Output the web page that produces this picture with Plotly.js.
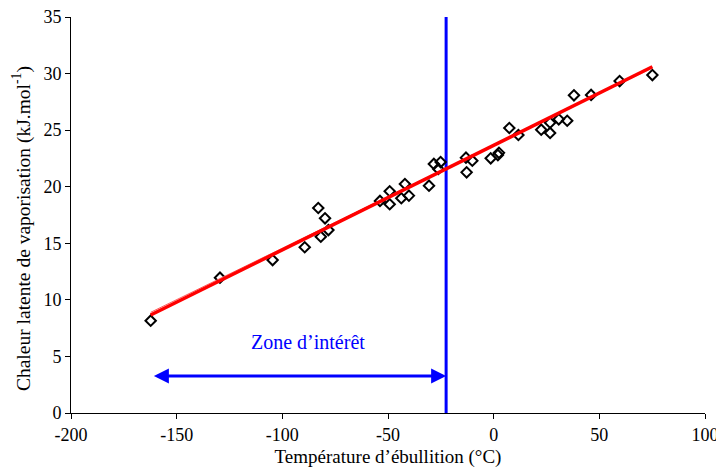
<!DOCTYPE html>
<html><head><meta charset="utf-8">
<script src="https://cdn.plot.ly/plotly-3.0.1.min.js"></script>
<style>html,body{margin:0;padding:0;background:#fff}#chart{width:716px;height:468px}</style>
</head><body><div id="chart"></div>
<script>
const tempEbullition = [-162.3,-129.5,-104.6,-89.4,-83.0,-79.8,-81.8,-78.2,-53.8,-49.2,-49.2,-43.7,-42.0,-40.1,-30.6,-28.3,-25.1,-26.2,-13.1,-10.1,-12.8,-1.4,2.5,2.0,7.4,11.7,22.5,26.7,26.7,30.8,34.8,38.0,46.1,59.6,75.1];
const chaleurLatente = [8.16,11.96,13.52,14.65,18.12,17.21,15.58,16.17,18.74,19.6,18.45,18.98,20.24,19.21,20.09,22.01,22.18,21.57,22.57,22.3,21.27,22.51,23.0,22.8,25.19,24.57,25.04,25.66,24.75,25.96,25.83,28.08,28.11,29.34,29.87];
const fitX = [-162.3, 75.1];
const fitY = [8.66, 30.6];
const fitX2 = [-162.3, 75.1];
const fitY2 = [8.9, 30.5];
const limiteX = [-22.5, -22.5];
const limiteY = [0, 35];
const zoneX = [-161.5, -22.5];
const zoneY = 3.27;
const zoneLabel = "Zone d’intérêt";
const xTitle = "Température d’ébullition (°C)";
const yTitle = "Chaleur latente de vaporisation (kJ.mol<sup>-1</sup>)";
const xTickVals = [-200, -150, -100, -50, 0, 50, 100];
const xTickText = ["-200", "-150", "-100", "-50", "0", "50", "100"];
const yTickVals = [0, 5, 10, 15, 20, 25, 30, 35];
const yTickText = ["0", "5", "10", "15", "20", "25", "30", "35"];

const font = "'Liberation Serif', 'Times New Roman', serif";
const traces = [
  {x: limiteX, y: limiteY, mode: 'lines', line: {color: '#0000ff', width: 3}, hoverinfo: 'skip'},
  {x: tempEbullition, y: chaleurLatente, mode: 'markers', type: 'scatter',
   marker: {symbol: 'diamond-open', size: 8, color: '#000', line: {color: '#000', width: 2}}},
  {x: fitX2, y: fitY2, mode: 'lines', line: {color: '#ff6060', width: 1}},
  {x: fitX, y: fitY, mode: 'lines', line: {color: '#ff0000', width: 3.5}}
];
const layout = {
  width: 716, height: 468,
  margin: {l: 71, r: 11, t: 17, b: 55},
  showlegend: false,
  paper_bgcolor: '#fff', plot_bgcolor: '#fff',
  font: {family: font, color: '#000', size: 18},
  xaxis: {range: [-200, 100], tickmode: 'array', tickvals: xTickVals, ticktext: xTickText,
          showgrid: false, zeroline: false, ticklabeloverflow: 'allow',
          showline: true, linecolor: '#000', linewidth: 1, ticks: 'outside', ticklen: 5, tickcolor: '#000',
          tickfont: {family: font, size: 18},
          title: {text: xTitle, font: {family: font, size: 19}, standoff: 6}},
  yaxis: {range: [0, 35], tickmode: 'array', tickvals: yTickVals, ticktext: yTickText,
          showgrid: false, zeroline: false,
          showline: true, linecolor: '#000', linewidth: 1, ticks: 'outside', ticklen: 5, tickcolor: '#000',
          tickfont: {family: font, size: 18}},
  annotations: [
    {x: zoneX[1], y: zoneY, ax: zoneX[0], ay: zoneY, xref: 'x', yref: 'y', axref: 'x', ayref: 'y',
     text: '', showarrow: true, arrowhead: 2, arrowside: 'end+start', arrowsize: 1, arrowwidth: 3, arrowcolor: '#0000ff'},
    {x: -88, y: 6.3, xref: 'x', yref: 'y', text: zoneLabel, showarrow: false,
     font: {family: font, size: 20, color: '#0000ff'}},
    {x: -0.077, y: 0.465, xref: 'paper', yref: 'paper', text: yTitle, textangle: -90, showarrow: false,
     xanchor: 'center', yanchor: 'middle', font: {family: font, size: 19.5, color: '#000'}}
  ]
};
Plotly.newPlot('chart', traces, layout, {displayModeBar: false, staticPlot: true});
</script></body></html>
